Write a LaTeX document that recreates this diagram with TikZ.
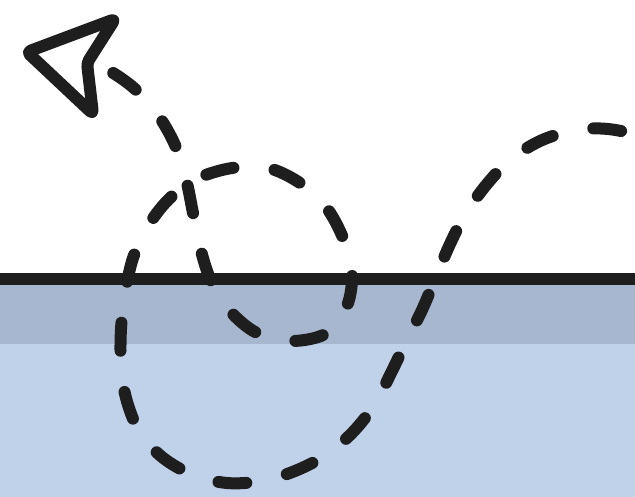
\documentclass[tikz,border=0pt]{standalone}
\usepackage{tikz}
\usetikzlibrary{arrows.meta}
\definecolor{inkBlack}{HTML}{1E1E1E}
\definecolor{bandGray}{HTML}{A7B7CF}
\definecolor{waterBlue}{HTML}{C0D2EA}

\begin{document}
\begin{tikzpicture}[
    x=1pt, y=-1pt,
    trail/.style={draw=inkBlack, line width=12pt, line cap=round, line join=round,
                  dash pattern=on 28pt off 41.5pt, dash phase=40pt},
    tiphead/.style={draw=inkBlack, fill=white, line width=12pt, line join=round,
                    rounded corners=4pt},
    ground/.style={fill=inkBlack}
]
\useasboundingbox (0,0) rectangle (635,497);
\fill[white] (0,0) rectangle (635,497);
\fill[waterBlue] (0,344) rectangle (635,497);
\fill[bandGray] (0,284) rectangle (635,344);
\fill[ground] (0,273) rectangle (635,285);

% dashed loop path
\draw[trail] plot[smooth, tension=0.55] coordinates {
    (650,137) (608,129) (575,130) (540,141) (510,160) (487,184) (466,213)
    (450,244) (436,277) (422,310) (406,342) (391,373) (375,404) (353,432)
    (326,455) (295,471) (262,481) (227,483) (193,475) (162,457) (139,431)
    (126,398) (121,364) (121,329) (125,294) (133,258) (148,226) (169,199)
    (196,179) (232,168) (268,168) (300,183) (326,207) (343,238) (352,272)
    (347,306) (327,333) (292,341) (257,333) (230,311) (211,281) (200,247)
    (193,213) (186,179) (175,145) (158,115) (135,89) (110,71) (90,62)};

% open arrow head
\draw[tiphead] (27,52) -- (115,19) -- (87,63) -- (93,114) -- cycle;
\end{tikzpicture}
\end{document}
